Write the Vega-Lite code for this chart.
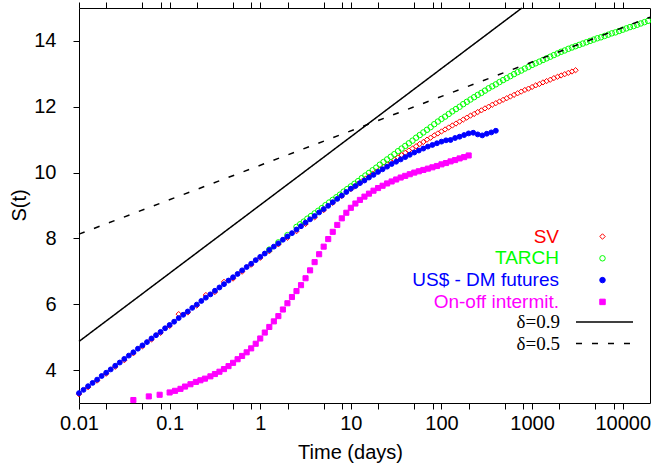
{
  "$schema": "https://vega.github.io/schema/vega-lite/v6.json",
  "width": 571,
  "height": 395,
  "autosize": {"type": "none"},
  "padding": {"left": 79, "top": 8, "right": 1, "bottom": 63},
  "background": "white",
  "config": {
    "view": {"stroke": "#000", "strokeWidth": 1},
    "font": "Liberation Sans",
    "axis": {"domain": false, "grid": false, "labelFont": "Liberation Sans", "labelFontSize": 20, "labelColor": "#000", "titleFont": "Liberation Sans", "titleFontSize": 20, "titleFontWeight": "normal", "titleColor": "#000", "tickColor": "#000", "tickWidth": 1, "tickSize": 6}
  },
  "datasets": {
    "lines": [
      {"delta": "δ=0.9", "t": 0.01, "S": 4.87},
      {"delta": "δ=0.9", "t": 771, "S": 15},
      {"delta": "δ=0.5", "t": 0.01, "S": 8.13},
      {"delta": "δ=0.5", "t": 20000, "S": 14.72}
    ],
    "pts": [
      {"series":"SV","t":0.01,"S":3.27},{"series":"SV","t":0.01259,"S":3.48},{"series":"SV","t":0.01585,"S":3.68},{"series":"SV","t":0.01995,"S":3.89},{"series":"SV","t":0.02512,"S":4.10},{"series":"SV","t":0.03162,"S":4.30},{"series":"SV","t":0.03981,"S":4.51},{"series":"SV","t":0.05012,"S":4.72},{"series":"SV","t":0.0631,"S":4.93},{"series":"SV","t":0.07943,"S":5.13},
      {"series":"SV","t":0.1,"S":5.34},{"series":"SV","t":0.1259,"S":5.70},{"series":"SV","t":0.1585,"S":5.75},{"series":"SV","t":0.1995,"S":5.96},{"series":"SV","t":0.2512,"S":6.28},{"series":"SV","t":0.3162,"S":6.37},{"series":"SV","t":0.3981,"S":6.68},{"series":"SV","t":0.5012,"S":6.78},{"series":"SV","t":0.631,"S":6.99},{"series":"SV","t":0.7943,"S":7.20},
      {"series":"SV","t":1,"S":7.41},{"series":"SV","t":1.259,"S":7.61},{"series":"SV","t":1.585,"S":7.82},{"series":"SV","t":1.995,"S":8.02},{"series":"SV","t":2.512,"S":8.22},{"series":"SV","t":3.162,"S":8.44},{"series":"SV","t":3.981,"S":8.64},{"series":"SV","t":5.012,"S":8.86},{"series":"SV","t":6.31,"S":9.08},{"series":"SV","t":7.943,"S":9.29},
      {"series":"SV","t":10,"S":9.50},{"series":"SV","t":10.96,"S":9.58},{"series":"SV","t":12.02,"S":9.66},{"series":"SV","t":13.18,"S":9.73},{"series":"SV","t":14.45,"S":9.81},{"series":"SV","t":15.85,"S":9.88},{"series":"SV","t":17.38,"S":9.96},{"series":"SV","t":19.05,"S":10.03},{"series":"SV","t":20.89,"S":10.10},{"series":"SV","t":22.91,"S":10.18},{"series":"SV","t":25.12,"S":10.25},{"series":"SV","t":27.54,"S":10.32},{"series":"SV","t":30.2,"S":10.39},{"series":"SV","t":33.11,"S":10.46},{"series":"SV","t":36.31,"S":10.53},{"series":"SV","t":39.81,"S":10.60},{"series":"SV","t":43.65,"S":10.67},{"series":"SV","t":47.86,"S":10.73},{"series":"SV","t":52.48,"S":10.80},{"series":"SV","t":57.54,"S":10.87},{"series":"SV","t":63.1,"S":10.93},{"series":"SV","t":69.18,"S":11.00},{"series":"SV","t":75.86,"S":11.06},{"series":"SV","t":83.18,"S":11.13},{"series":"SV","t":91.2,"S":11.19},
      {"series":"SV","t":100,"S":11.25},{"series":"SV","t":109.6,"S":11.31},{"series":"SV","t":120.2,"S":11.37},{"series":"SV","t":131.8,"S":11.43},{"series":"SV","t":144.5,"S":11.49},{"series":"SV","t":158.5,"S":11.55},{"series":"SV","t":173.8,"S":11.61},{"series":"SV","t":190.5,"S":11.67},{"series":"SV","t":208.9,"S":11.73},{"series":"SV","t":229.1,"S":11.78},{"series":"SV","t":251.2,"S":11.84},{"series":"SV","t":275.4,"S":11.89},{"series":"SV","t":302,"S":11.95},{"series":"SV","t":331.1,"S":12.00},{"series":"SV","t":363.1,"S":12.06},{"series":"SV","t":398.1,"S":12.11},{"series":"SV","t":436.5,"S":12.16},{"series":"SV","t":478.6,"S":12.21},{"series":"SV","t":524.8,"S":12.26},{"series":"SV","t":575.4,"S":12.31},{"series":"SV","t":631,"S":12.36},{"series":"SV","t":691.8,"S":12.41},{"series":"SV","t":758.6,"S":12.46},{"series":"SV","t":831.8,"S":12.51},{"series":"SV","t":912,"S":12.55},
      {"series":"SV","t":1000,"S":12.60},{"series":"SV","t":1096,"S":12.65},{"series":"SV","t":1202,"S":12.69},{"series":"SV","t":1318,"S":12.74},{"series":"SV","t":1445,"S":12.78},{"series":"SV","t":1585,"S":12.82},{"series":"SV","t":1738,"S":12.87},{"series":"SV","t":1905,"S":12.91},{"series":"SV","t":2089,"S":12.95},{"series":"SV","t":2291,"S":12.99},{"series":"SV","t":2512,"S":13.03},{"series":"SV","t":2754,"S":13.07},{"series":"SV","t":3020,"S":13.11},

      {"series":"TARCH","t":1.259,"S":7.66},{"series":"TARCH","t":1.585,"S":7.88},{"series":"TARCH","t":1.995,"S":8.10},
      {"series":"TARCH","t":2.512,"S":8.35},{"series":"TARCH","t":2.754,"S":8.43},{"series":"TARCH","t":3.02,"S":8.51},{"series":"TARCH","t":3.311,"S":8.60},{"series":"TARCH","t":3.631,"S":8.68},{"series":"TARCH","t":3.981,"S":8.76},{"series":"TARCH","t":4.365,"S":8.84},{"series":"TARCH","t":4.786,"S":8.92},{"series":"TARCH","t":5.248,"S":9.01},{"series":"TARCH","t":5.754,"S":9.09},{"series":"TARCH","t":6.31,"S":9.17},{"series":"TARCH","t":6.918,"S":9.25},{"series":"TARCH","t":7.586,"S":9.33},{"series":"TARCH","t":8.318,"S":9.42},{"series":"TARCH","t":9.12,"S":9.50},
      {"series":"TARCH","t":10,"S":9.58},{"series":"TARCH","t":10.96,"S":9.66},{"series":"TARCH","t":12.02,"S":9.74},{"series":"TARCH","t":13.18,"S":9.83},{"series":"TARCH","t":14.45,"S":9.91},{"series":"TARCH","t":15.85,"S":9.99},{"series":"TARCH","t":17.38,"S":10.07},{"series":"TARCH","t":19.05,"S":10.15},{"series":"TARCH","t":20.89,"S":10.24},{"series":"TARCH","t":22.91,"S":10.32},{"series":"TARCH","t":25.12,"S":10.40},{"series":"TARCH","t":27.54,"S":10.48},{"series":"TARCH","t":30.2,"S":10.56},{"series":"TARCH","t":33.11,"S":10.65},{"series":"TARCH","t":36.31,"S":10.73},{"series":"TARCH","t":39.81,"S":10.81},{"series":"TARCH","t":43.65,"S":10.89},{"series":"TARCH","t":47.86,"S":10.97},{"series":"TARCH","t":52.48,"S":11.06},{"series":"TARCH","t":57.54,"S":11.14},{"series":"TARCH","t":63.1,"S":11.22},{"series":"TARCH","t":69.18,"S":11.30},{"series":"TARCH","t":75.86,"S":11.38},{"series":"TARCH","t":83.18,"S":11.47},{"series":"TARCH","t":91.2,"S":11.55},
      {"series":"TARCH","t":100,"S":11.63},{"series":"TARCH","t":109.6,"S":11.70},{"series":"TARCH","t":120.2,"S":11.78},{"series":"TARCH","t":131.8,"S":11.86},{"series":"TARCH","t":144.5,"S":11.93},{"series":"TARCH","t":158.5,"S":12.00},{"series":"TARCH","t":173.8,"S":12.08},{"series":"TARCH","t":190.5,"S":12.15},{"series":"TARCH","t":208.9,"S":12.22},{"series":"TARCH","t":229.1,"S":12.29},{"series":"TARCH","t":251.2,"S":12.36},{"series":"TARCH","t":275.4,"S":12.42},{"series":"TARCH","t":302,"S":12.49},{"series":"TARCH","t":331.1,"S":12.56},{"series":"TARCH","t":363.1,"S":12.62},{"series":"TARCH","t":398.1,"S":12.68},{"series":"TARCH","t":436.5,"S":12.75},{"series":"TARCH","t":478.6,"S":12.81},{"series":"TARCH","t":524.8,"S":12.87},{"series":"TARCH","t":575.4,"S":12.93},{"series":"TARCH","t":631,"S":12.99},{"series":"TARCH","t":691.8,"S":13.05},{"series":"TARCH","t":758.6,"S":13.10},{"series":"TARCH","t":831.8,"S":13.16},{"series":"TARCH","t":912,"S":13.21},
      {"series":"TARCH","t":1000,"S":13.27},{"series":"TARCH","t":1096,"S":13.32},{"series":"TARCH","t":1202,"S":13.37},{"series":"TARCH","t":1318,"S":13.42},{"series":"TARCH","t":1445,"S":13.47},{"series":"TARCH","t":1585,"S":13.52},{"series":"TARCH","t":1738,"S":13.57},{"series":"TARCH","t":1905,"S":13.62},{"series":"TARCH","t":2089,"S":13.67},{"series":"TARCH","t":2291,"S":13.71},{"series":"TARCH","t":2512,"S":13.76},{"series":"TARCH","t":2754,"S":13.80},{"series":"TARCH","t":3020,"S":13.84},{"series":"TARCH","t":3311,"S":13.88},{"series":"TARCH","t":3631,"S":13.92},{"series":"TARCH","t":3981,"S":13.96},{"series":"TARCH","t":4365,"S":14.00},{"series":"TARCH","t":4786,"S":14.04},{"series":"TARCH","t":5248,"S":14.08},{"series":"TARCH","t":5754,"S":14.11},{"series":"TARCH","t":6310,"S":14.15},{"series":"TARCH","t":6918,"S":14.19},{"series":"TARCH","t":7586,"S":14.23},{"series":"TARCH","t":8318,"S":14.26},{"series":"TARCH","t":9120,"S":14.30},
      {"series":"TARCH","t":10000,"S":14.34},{"series":"TARCH","t":10960,"S":14.38},{"series":"TARCH","t":12020,"S":14.42},{"series":"TARCH","t":13180,"S":14.45},{"series":"TARCH","t":14450,"S":14.49},{"series":"TARCH","t":15850,"S":14.53},{"series":"TARCH","t":17380,"S":14.57},{"series":"TARCH","t":19050,"S":14.61},

      {"series":"US$ - DM futures","t":0.01,"S":3.30},{"series":"US$ - DM futures","t":0.01122,"S":3.40},{"series":"US$ - DM futures","t":0.01259,"S":3.51},{"series":"US$ - DM futures","t":0.01413,"S":3.61},{"series":"US$ - DM futures","t":0.01585,"S":3.71},{"series":"US$ - DM futures","t":0.01778,"S":3.82},{"series":"US$ - DM futures","t":0.01995,"S":3.92},{"series":"US$ - DM futures","t":0.02239,"S":4.02},{"series":"US$ - DM futures","t":0.02512,"S":4.13},{"series":"US$ - DM futures","t":0.02818,"S":4.23},{"series":"US$ - DM futures","t":0.03162,"S":4.34},{"series":"US$ - DM futures","t":0.03548,"S":4.44},{"series":"US$ - DM futures","t":0.03981,"S":4.54},{"series":"US$ - DM futures","t":0.04467,"S":4.65},{"series":"US$ - DM futures","t":0.05012,"S":4.75},{"series":"US$ - DM futures","t":0.05623,"S":4.85},{"series":"US$ - DM futures","t":0.0631,"S":4.96},{"series":"US$ - DM futures","t":0.07079,"S":5.06},{"series":"US$ - DM futures","t":0.07943,"S":5.16},{"series":"US$ - DM futures","t":0.08913,"S":5.27},
      {"series":"US$ - DM futures","t":0.1,"S":5.37},{"series":"US$ - DM futures","t":0.1122,"S":5.47},{"series":"US$ - DM futures","t":0.1259,"S":5.58},{"series":"US$ - DM futures","t":0.1413,"S":5.68},{"series":"US$ - DM futures","t":0.1585,"S":5.78},{"series":"US$ - DM futures","t":0.1778,"S":5.89},{"series":"US$ - DM futures","t":0.1995,"S":5.99},{"series":"US$ - DM futures","t":0.2239,"S":6.10},{"series":"US$ - DM futures","t":0.2512,"S":6.20},{"series":"US$ - DM futures","t":0.2818,"S":6.30},{"series":"US$ - DM futures","t":0.3162,"S":6.41},{"series":"US$ - DM futures","t":0.3548,"S":6.51},{"series":"US$ - DM futures","t":0.3981,"S":6.61},{"series":"US$ - DM futures","t":0.4467,"S":6.72},{"series":"US$ - DM futures","t":0.5012,"S":6.82},{"series":"US$ - DM futures","t":0.5623,"S":6.92},{"series":"US$ - DM futures","t":0.631,"S":7.03},{"series":"US$ - DM futures","t":0.7079,"S":7.13},{"series":"US$ - DM futures","t":0.7943,"S":7.23},{"series":"US$ - DM futures","t":0.8913,"S":7.34},
      {"series":"US$ - DM futures","t":1,"S":7.44},{"series":"US$ - DM futures","t":1.122,"S":7.54},{"series":"US$ - DM futures","t":1.259,"S":7.65},{"series":"US$ - DM futures","t":1.413,"S":7.75},{"series":"US$ - DM futures","t":1.585,"S":7.85},{"series":"US$ - DM futures","t":1.778,"S":7.96},{"series":"US$ - DM futures","t":1.995,"S":8.06},{"series":"US$ - DM futures","t":2.239,"S":8.16},{"series":"US$ - DM futures","t":2.512,"S":8.27},{"series":"US$ - DM futures","t":2.818,"S":8.37},{"series":"US$ - DM futures","t":3.162,"S":8.48},{"series":"US$ - DM futures","t":3.548,"S":8.58},{"series":"US$ - DM futures","t":3.981,"S":8.68},{"series":"US$ - DM futures","t":4.467,"S":8.79},{"series":"US$ - DM futures","t":5.012,"S":8.89},{"series":"US$ - DM futures","t":5.623,"S":8.99},{"series":"US$ - DM futures","t":6.31,"S":9.10},{"series":"US$ - DM futures","t":7.079,"S":9.20},{"series":"US$ - DM futures","t":7.943,"S":9.30},{"series":"US$ - DM futures","t":8.913,"S":9.41},
      {"series":"US$ - DM futures","t":10,"S":9.51},{"series":"US$ - DM futures","t":11.22,"S":9.59},{"series":"US$ - DM futures","t":12.59,"S":9.68},{"series":"US$ - DM futures","t":14.13,"S":9.76},{"series":"US$ - DM futures","t":15.85,"S":9.85},{"series":"US$ - DM futures","t":17.78,"S":9.93},{"series":"US$ - DM futures","t":19.95,"S":10.02},{"series":"US$ - DM futures","t":22.39,"S":10.10},{"series":"US$ - DM futures","t":25.12,"S":10.18},{"series":"US$ - DM futures","t":28.18,"S":10.26},{"series":"US$ - DM futures","t":31.62,"S":10.33},{"series":"US$ - DM futures","t":35.48,"S":10.40},{"series":"US$ - DM futures","t":39.81,"S":10.47},{"series":"US$ - DM futures","t":44.67,"S":10.54},{"series":"US$ - DM futures","t":50.12,"S":10.61},{"series":"US$ - DM futures","t":56.23,"S":10.67},{"series":"US$ - DM futures","t":63.1,"S":10.73},{"series":"US$ - DM futures","t":70.79,"S":10.79},{"series":"US$ - DM futures","t":79.43,"S":10.84},{"series":"US$ - DM futures","t":89.13,"S":10.89},
      {"series":"US$ - DM futures","t":100,"S":10.94},{"series":"US$ - DM futures","t":112.2,"S":10.98},{"series":"US$ - DM futures","t":125.9,"S":10.99},{"series":"US$ - DM futures","t":141.3,"S":11.05},{"series":"US$ - DM futures","t":158.5,"S":11.09},{"series":"US$ - DM futures","t":177.8,"S":11.14},{"series":"US$ - DM futures","t":199.5,"S":11.19},{"series":"US$ - DM futures","t":223.9,"S":11.21},{"series":"US$ - DM futures","t":251.2,"S":11.16},{"series":"US$ - DM futures","t":281.8,"S":11.13},{"series":"US$ - DM futures","t":316.2,"S":11.18},{"series":"US$ - DM futures","t":354.8,"S":11.22},{"series":"US$ - DM futures","t":398.1,"S":11.27},

      {"series":"On-off intermit.","t":0.0398,"S":3.09},{"series":"On-off intermit.","t":0.0589,"S":3.20},{"series":"On-off intermit.","t":0.0776,"S":3.25},{"series":"On-off intermit.","t":0.1,"S":3.32},{"series":"On-off intermit.","t":0.1148,"S":3.37},{"series":"On-off intermit.","t":0.1318,"S":3.43},{"series":"On-off intermit.","t":0.1479,"S":3.50},{"series":"On-off intermit.","t":0.1698,"S":3.57},{"series":"On-off intermit.","t":0.195,"S":3.64},{"series":"On-off intermit.","t":0.2188,"S":3.69},{"series":"On-off intermit.","t":0.2455,"S":3.74},{"series":"On-off intermit.","t":0.2818,"S":3.81},{"series":"On-off intermit.","t":0.3162,"S":3.88},{"series":"On-off intermit.","t":0.3548,"S":3.95},{"series":"On-off intermit.","t":0.3981,"S":4.03},{"series":"On-off intermit.","t":0.4467,"S":4.12},{"series":"On-off intermit.","t":0.5012,"S":4.22},{"series":"On-off intermit.","t":0.5623,"S":4.33},{"series":"On-off intermit.","t":0.631,"S":4.43},{"series":"On-off intermit.","t":0.7079,"S":4.54},{"series":"On-off intermit.","t":0.7943,"S":4.66},{"series":"On-off intermit.","t":0.8913,"S":4.80},
      {"series":"On-off intermit.","t":1,"S":4.96},{"series":"On-off intermit.","t":1.122,"S":5.14},{"series":"On-off intermit.","t":1.259,"S":5.31},{"series":"On-off intermit.","t":1.413,"S":5.48},{"series":"On-off intermit.","t":1.585,"S":5.64},{"series":"On-off intermit.","t":1.778,"S":5.84},{"series":"On-off intermit.","t":1.995,"S":6.03},{"series":"On-off intermit.","t":2.239,"S":6.22},{"series":"On-off intermit.","t":2.512,"S":6.40},{"series":"On-off intermit.","t":2.818,"S":6.58},{"series":"On-off intermit.","t":3.162,"S":6.79},{"series":"On-off intermit.","t":3.548,"S":7.03},{"series":"On-off intermit.","t":3.981,"S":7.28},{"series":"On-off intermit.","t":4.467,"S":7.52},{"series":"On-off intermit.","t":5.012,"S":7.75},{"series":"On-off intermit.","t":5.623,"S":7.98},{"series":"On-off intermit.","t":6.31,"S":8.20},{"series":"On-off intermit.","t":7.079,"S":8.41},{"series":"On-off intermit.","t":7.943,"S":8.61},{"series":"On-off intermit.","t":8.913,"S":8.78},
      {"series":"On-off intermit.","t":10,"S":8.93},{"series":"On-off intermit.","t":11.22,"S":9.06},{"series":"On-off intermit.","t":12.59,"S":9.17},{"series":"On-off intermit.","t":14.13,"S":9.27},{"series":"On-off intermit.","t":15.85,"S":9.36},{"series":"On-off intermit.","t":17.78,"S":9.45},{"series":"On-off intermit.","t":19.95,"S":9.53},{"series":"On-off intermit.","t":22.39,"S":9.60},{"series":"On-off intermit.","t":25.12,"S":9.67},{"series":"On-off intermit.","t":28.18,"S":9.73},{"series":"On-off intermit.","t":31.62,"S":9.79},{"series":"On-off intermit.","t":35.48,"S":9.85},{"series":"On-off intermit.","t":39.81,"S":9.90},{"series":"On-off intermit.","t":44.67,"S":9.95},{"series":"On-off intermit.","t":50.12,"S":10.00},{"series":"On-off intermit.","t":56.23,"S":10.04},{"series":"On-off intermit.","t":63.1,"S":10.08},{"series":"On-off intermit.","t":70.79,"S":10.12},{"series":"On-off intermit.","t":79.43,"S":10.16},{"series":"On-off intermit.","t":89.13,"S":10.20},
      {"series":"On-off intermit.","t":100,"S":10.25},{"series":"On-off intermit.","t":112.2,"S":10.29},{"series":"On-off intermit.","t":125.9,"S":10.34},{"series":"On-off intermit.","t":141.3,"S":10.38},{"series":"On-off intermit.","t":158.5,"S":10.43},{"series":"On-off intermit.","t":177.8,"S":10.47},{"series":"On-off intermit.","t":199.5,"S":10.52}
    ]
  },
  "layer": [
    {
      "data": {"name": "pts"},
      "mark": {"type": "point", "strokeWidth": 1, "opacity": 1},
      "encoding": {
        "x": {
          "field": "t", "type": "quantitative",
          "scale": {"type": "log", "domain": [0.01, 20000], "nice": false},
          "axis": {
            "values": [0.01,0.02,0.05,0.08,0.1,0.2,0.5,0.8,1,2,5,8,10,20,50,80,100,200,500,800,1000,2000,5000,8000,10000],
            "labelExpr": "abs(log(datum.value)/LN10 - round(log(datum.value)/LN10)) < 0.001 ? format(datum.value, '~g') : ''",
            "labelPadding": 4,
            "labelFlush": false,
            "labelOverlap": false,
            "title": "Time (days)",
            "titleX": 271,
            "titleY": 55,
            "titleBaseline": "alphabetic",
            "titleAnchor": null,
            "encode": {"ticks": {"update": {"y2": [{"test": "abs(log(datum.value)/LN10 - round(log(datum.value)/LN10)) < 0.001", "value": -6}, {"value": -3}]}}}
          }
        },
        "y": {
          "field": "S", "type": "quantitative",
          "scale": {"domain": [3, 15], "nice": false, "zero": false},
          "axis": {
            "values": [4, 6, 8, 10, 12, 14],
            "labelPadding": 17,
            "title": "S(t)",
            "titleX": -54,
            "titleY": 197,
            "titleBaseline": "alphabetic",
            "titleAlign": "center",
            "encode": {"ticks": {"update": {"x2": {"value": 6}}}}
          }
        },
        "shape": {
          "field": "series", "type": "nominal",
          "scale": {"domain": ["SV", "TARCH", "US$ - DM futures", "On-off intermit."], "range": ["diamond", "circle", "circle", "square"]},
          "legend": {"title": null, "orient": "none", "legendX": 514, "legendY": 219, "labelAlign": "right", "labelOffset": -53, "symbolOffset": 0, "labelFont": "Liberation Sans", "labelFontSize": 19, "labelLimit": 300, "labelColor": {"expr": "scale('stroke', datum.value)"}, "symbolSize": 30, "symbolStrokeWidth": 1, "rowPadding": 1.8, "padding": 0}
        },
        "stroke": {
          "field": "series", "type": "nominal",
          "scale": {"domain": ["SV", "TARCH", "US$ - DM futures", "On-off intermit."], "range": ["#ff0000", "#00ff00", "#0000ff", "#ff00ff"]},
          "legend": {"title": null, "orient": "none", "legendX": 514, "legendY": 219, "labelAlign": "right", "labelOffset": -53, "symbolOffset": 0, "labelFont": "Liberation Sans", "labelFontSize": 19, "labelLimit": 300, "labelColor": {"expr": "scale('stroke', datum.value)"}, "symbolSize": 30, "symbolStrokeWidth": 1, "rowPadding": 1.8, "padding": 0}
        },
        "fill": {
          "field": "series", "type": "nominal",
          "scale": {"domain": ["SV", "TARCH", "US$ - DM futures", "On-off intermit."], "range": ["transparent", "transparent", "#0000ff", "#ff00ff"]},
          "legend": {"title": null, "orient": "none", "legendX": 514, "legendY": 219, "labelAlign": "right", "labelOffset": -53, "symbolOffset": 0, "labelFont": "Liberation Sans", "labelFontSize": 19, "labelLimit": 300, "labelColor": {"expr": "scale('stroke', datum.value)"}, "symbolSize": 30, "symbolStrokeWidth": 1, "rowPadding": 1.8, "padding": 0}
        },
        "size": {
          "field": "series", "type": "nominal",
          "scale": {"domain": ["TARCH", "SV", "On-off intermit.", "US$ - DM futures"], "range": [30, 24, 56, 40]},
          "legend": null
        }
      }
    },
    {
      "data": {"name": "lines"},
      "mark": {"type": "line", "color": "#000", "strokeWidth": 1.5},
      "encoding": {
        "x": {
          "field": "t", "type": "quantitative",
          "scale": {"type": "log", "domain": [0.01, 20000], "nice": false},
          "axis": {
            "orient": "top",
            "values": [0.01,0.02,0.05,0.08,0.1,0.2,0.5,0.8,1,2,5,8,10,20,50,80,100,200,500,800,1000,2000,5000,8000,10000],
            "labels": false,
            "title": null,
            "encode": {"ticks": {"update": {"y2": [{"test": "abs(log(datum.value)/LN10 - round(log(datum.value)/LN10)) < 0.001", "value": 6}, {"value": 3}]}}}
          }
        },
        "y": {
          "field": "S", "type": "quantitative",
          "scale": {"domain": [3, 15], "nice": false, "zero": false},
          "axis": {"orient": "right", "values": [4, 6, 8, 10, 12, 14], "labels": false, "title": null, "encode": {"ticks": {"update": {"x2": {"value": -6}}}}}
        },
        "strokeDash": {
          "field": "delta", "type": "nominal",
          "scale": {"domain": ["δ=0.9", "δ=0.5"], "range": [[1, 0], [6, 10]]},
          "legend": {"title": null, "orient": "none", "legendX": 516, "legendY": 304.5, "labelAlign": "right", "labelOffset": -54, "symbolOffset": 0, "symbolType": "M-5,0H5", "symbolSize": 130, "symbolStrokeWidth": 1.5, "symbolStrokeColor": "#000", "symbolFillColor": "transparent", "labelFont": "Liberation Serif", "labelFontSize": 19, "labelColor": "#000", "rowPadding": 1.5, "padding": 0}
        }
      }
    }
  ],
  "resolve": {"axis": {"x": "independent", "y": "independent"}}
}
